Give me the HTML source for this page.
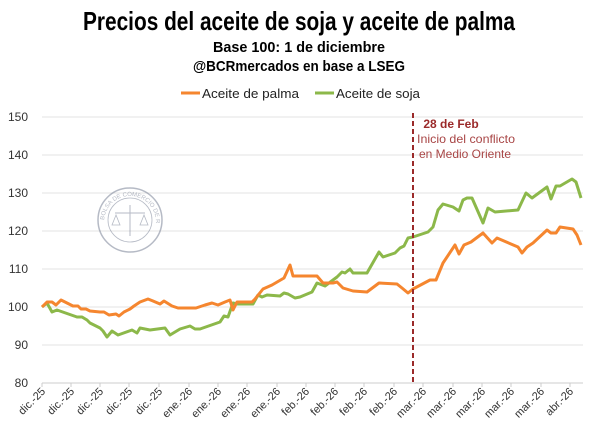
<!DOCTYPE html>
<html><head><meta charset="utf-8"><style>
html,body{margin:0;padding:0;background:#fff;}
svg{display:block;font-family:"Liberation Sans",sans-serif;}
</style></head><body>
<svg width="600" height="434" viewBox="0 0 600 434" xmlns="http://www.w3.org/2000/svg">
<rect width="600" height="434" fill="#fff"/>
<text x="83" y="30" font-size="26" font-weight="bold" textLength="432" lengthAdjust="spacingAndGlyphs" fill="#000">Precios del aceite de soja y aceite de palma</text>
<text x="213" y="52" font-size="15" font-weight="bold" textLength="172" lengthAdjust="spacingAndGlyphs" fill="#000">Base 100: 1 de diciembre</text>
<text x="193" y="71" font-size="15" font-weight="bold" textLength="212" lengthAdjust="spacingAndGlyphs" fill="#000">@BCRmercados en base a LSEG</text>
<line x1="181" y1="93" x2="200" y2="93" stroke="#f5862f" stroke-width="3"/>
<text x="202" y="98" font-size="13" fill="#222" textLength="97" lengthAdjust="spacingAndGlyphs">Aceite de palma</text>
<line x1="315" y1="93" x2="334" y2="93" stroke="#8cb84a" stroke-width="3"/>
<text x="336" y="98" font-size="13" fill="#222" textLength="84" lengthAdjust="spacingAndGlyphs">Aceite de soja</text>
<g stroke="#e3e3e3" stroke-width="1">
<line x1="42" y1="117" x2="583" y2="117"/><line x1="42" y1="155" x2="583" y2="155"/><line x1="42" y1="193" x2="583" y2="193"/><line x1="42" y1="231" x2="583" y2="231"/><line x1="42" y1="269" x2="583" y2="269"/><line x1="42" y1="307" x2="583" y2="307"/><line x1="42" y1="345" x2="583" y2="345"/>
</g>
<line x1="42" y1="383" x2="583" y2="383" stroke="#ccc"/>
<g font-size="12" fill="#333" text-anchor="end">
<text x="28" y="121">150</text><text x="28" y="159">140</text><text x="28" y="197">130</text><text x="28" y="235">120</text><text x="28" y="273">110</text><text x="28" y="311">100</text><text x="28" y="349">90</text><text x="28" y="387">80</text>
</g>
<g stroke="#ccc">
<line x1="42" y1="383" x2="42" y2="387"/><line x1="71" y1="383" x2="71" y2="387"/><line x1="100" y1="383" x2="100" y2="387"/><line x1="129" y1="383" x2="129" y2="387"/><line x1="159" y1="383" x2="159" y2="387"/><line x1="189" y1="383" x2="189" y2="387"/><line x1="218" y1="383" x2="218" y2="387"/><line x1="247" y1="383" x2="247" y2="387"/><line x1="277" y1="383" x2="277" y2="387"/><line x1="306" y1="383" x2="306" y2="387"/><line x1="335" y1="383" x2="335" y2="387"/><line x1="364" y1="383" x2="364" y2="387"/><line x1="394" y1="383" x2="394" y2="387"/><line x1="423" y1="383" x2="423" y2="387"/><line x1="453" y1="383" x2="453" y2="387"/><line x1="482" y1="383" x2="482" y2="387"/><line x1="511" y1="383" x2="511" y2="387"/><line x1="541" y1="383" x2="541" y2="387"/><line x1="570" y1="383" x2="570" y2="387"/>
</g>
<g font-size="11" fill="#333" text-anchor="end">
<text transform="translate(46,392) rotate(-45)">dic.-25</text>
<text transform="translate(75,392) rotate(-45)">dic.-25</text>
<text transform="translate(104,392) rotate(-45)">dic.-25</text>
<text transform="translate(133,392) rotate(-45)">dic.-25</text>
<text transform="translate(163,392) rotate(-45)">dic.-25</text>
<text transform="translate(193,392) rotate(-45)">ene.-26</text>
<text transform="translate(222,392) rotate(-45)">ene.-26</text>
<text transform="translate(251,392) rotate(-45)">ene.-26</text>
<text transform="translate(281,392) rotate(-45)">ene.-26</text>
<text transform="translate(310,392) rotate(-45)">feb.-26</text>
<text transform="translate(339,392) rotate(-45)">feb.-26</text>
<text transform="translate(368,392) rotate(-45)">feb.-26</text>
<text transform="translate(398,392) rotate(-45)">feb.-26</text>
<text transform="translate(427,392) rotate(-45)">mar.-26</text>
<text transform="translate(457,392) rotate(-45)">mar.-26</text>
<text transform="translate(486,392) rotate(-45)">mar.-26</text>
<text transform="translate(515,392) rotate(-45)">mar.-26</text>
<text transform="translate(545,392) rotate(-45)">mar.-26</text>
<text transform="translate(574,392) rotate(-45)">abr.-26</text>
</g>
<defs><path id="arc" d="M104 222 A26 26 0 1 1 156 222"/></defs>
<g opacity="0.55" stroke="#7a8296" fill="none">
<circle cx="130" cy="220" r="32" stroke-width="1.5"/>
<circle cx="130" cy="220" r="22" stroke-width="0.8"/>
<line x1="115" y1="213" x2="145" y2="213"/><line x1="130" y1="205" x2="130" y2="236"/>
<path d="M116 215 l-4 10 h8 z M144 215 l-4 10 h8 z" stroke-width="0.8"/>
<text font-size="6" fill="#7a8296" stroke="none"><textPath href="#arc" startOffset="2">BOLSA DE COMERCIO DE ROSARIO</textPath></text>
</g>
<polyline fill="none" stroke="#8cb84a" stroke-width="3" stroke-linejoin="round" points="42,307 47,303 52,312 57,310 77,317 82,317 87,320 90,323 100,328 103,331 107,337 112,331 118,335 132,330 137,333 140,328 150,330 165,328 170,335 180,329 190,326 195,329 200,329 220,322 224,316 228,317 233,303 237,304 253,304 258,295 262,297 267,295 280,296 284,293 288,294 295,298 300,297 312,292 317,283 325,286 337,277 342,272 345,273 350,269 353,273 367,273 379,252 383,257 395,253 400,248 404,246 408,238 413,237 428,232 433,227 438,210 443,204 453,207 459,211 463,200 467,198 472,198 483,223 488,208 495,212 518,210 526,193 532,198 547,187 551,199 556,186 560,186 572,179 576,182 581,198"/>
<polyline fill="none" stroke="#f5862f" stroke-width="3" stroke-linejoin="round" points="42,307 47,302 52,302 56,305 61,300 67,303 73,306 78,306 81,309 86,309 90,311 100,312 104,312 109,315 116,314 119,316 124,312 130,309 134,306 140,302 148,299 153,301 160,304 164,301 172,306 178,308 190,308 196,308 205,305 212,303 218,305 225,302 230,300 233,310 237,302 252,302 255,299 263,289 272,285 284,278 290,265 293,276 300,276 317,276 323,283 333,283 337,282 343,288 353,291 367,292 379,283 397,284 402,288 408,293 413,289 430,280 436,280 443,263 455,245 459,254 464,245 471,242 483,233 492,243 497,238 518,247 522,253 527,247 533,243 547,230 551,233 556,233 560,227 573,229 577,235 581,245"/>
<line x1="413" y1="113" x2="413" y2="383" stroke="#9b2a2a" stroke-width="2" stroke-dasharray="5,3"/>
<text x="451" y="128" font-size="12" font-weight="bold" fill="#9b2a2a" text-anchor="middle">28 de Feb</text>
<text x="466" y="143" font-size="12" fill="#a84545" text-anchor="middle" textLength="98" lengthAdjust="spacingAndGlyphs">Inicio del conflicto</text>
<text x="465" y="158" font-size="12" fill="#a84545" text-anchor="middle" textLength="92" lengthAdjust="spacingAndGlyphs">en Medio Oriente</text>
</svg>
</body></html>
